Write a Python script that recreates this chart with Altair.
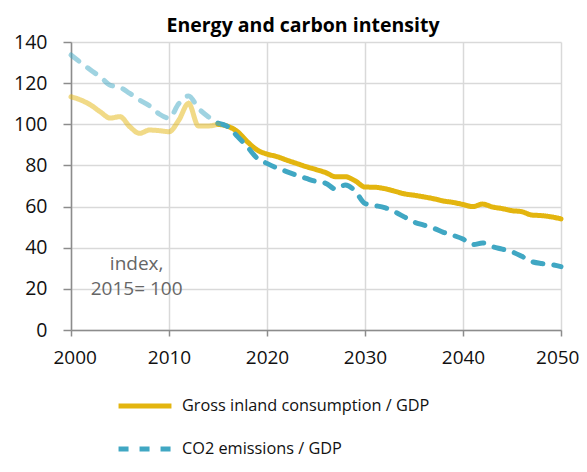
import altair as alt
import pandas as pd

years = list(range(2000, 2051))
series_names = ["Gross inland consumption / GDP", "CO2 emissions / GDP"]

gic_gdp = [113.4, 111.8, 109.4, 106.0, 103.0, 103.7, 98.8, 95.6, 97.2, 96.9,
           96.4, 102.0, 110.2, 99.2, 99.2, 100.0, 99.0, 96.4, 91.5, 87.5,
           85.5, 84.3, 82.6, 81.0, 79.4, 78.0, 76.5, 74.5, 74.5, 72.5,
           69.5, 69.4, 68.7, 67.5, 66.2, 65.5, 64.7, 63.8, 62.7, 62.0,
           61.0, 60.0, 61.2, 59.8, 59.0, 58.0, 57.5, 55.9, 55.6, 55.0, 54.0]
co2_gdp = [133.7, 130.0, 126.4, 123.0, 119.0, 118.0, 115.0, 111.8, 109.0, 105.0,
           103.0, 110.0, 113.8, 107.8, 103.7, 100.5, 98.8, 94.0, 89.0, 83.5,
           81.0, 78.8, 77.0, 75.3, 73.7, 72.2, 71.3, 68.5, 70.5, 67.5,
           61.5, 60.5, 59.5, 57.5, 55.0, 52.5, 51.0, 49.5, 47.5, 46.0,
           44.2, 41.5, 42.3, 40.5, 39.3, 38.0, 35.8, 33.3, 32.3, 31.8, 30.8]
split_year = 2015

annot_text = [["index,", "2015= 100"]]
annot_year = [2006.7]
annot_value = [29.2]

colors = ["#E3B50F", "#40A7C3"]
dashes = [[1, 0], [10, 11]]
FONT = "Open Sans"

rows = []
for name, vals in zip(series_names, [gic_gdp, co2_gdp]):
    for y, v in zip(years, vals):
        if y <= split_year:
            rows.append({"year": y, "value": v, "series": name, "period": "hist"})
        if y >= split_year:
            rows.append({"year": y, "value": v, "series": name, "period": "proj"})
df = pd.DataFrame(rows)

legend = alt.Legend(
    title=None, orient="none", legendX=45, legendY=335, direction="vertical",
    symbolType="stroke", symbolSize=2800, symbolStrokeWidth=5, symbolOpacity=1,
    labelFont=FONT, labelFontSize=16.3, labelColor="#111", labelOffset=8, labelLimit=500,
    rowPadding=4, padding=0,
)

x_axis = alt.Axis(values=list(range(2000, 2051, 10)), format="d", title=None,
                  labelFont=FONT, labelFontSize=19, labelColor="#111",
                  labelFlush=True, labelFlushOffset=18,
                  labelPadding=12, tickSize=6, tickColor="#8c8c8c", tickWidth=1.5,
                  domainColor="#8c8c8c", domainWidth=1.5,
                  gridColor="#d9d9d9", gridWidth=1.5)
y_axis = alt.Axis(values=list(range(0, 141, 20)), title=None,
                  labelFont=FONT, labelFontSize=19.5, labelColor="#111", labelFlush=False,
                  labelPadding=16, tickSize=8, tickColor="#8c8c8c", tickWidth=1.5,
                  domainColor="#8c8c8c", domainWidth=1.5,
                  gridColor="#d9d9d9", gridWidth=1.5)

base = alt.Chart(df).encode(
    x=alt.X("year:Q", scale=alt.Scale(domain=[2000, 2050], nice=False), axis=x_axis),
    y=alt.Y("value:Q", scale=alt.Scale(domain=[0, 140], nice=False), axis=y_axis),
    color=alt.Color("series:N", scale=alt.Scale(domain=series_names, range=colors), legend=legend),
    strokeDash=alt.StrokeDash("series:N", scale=alt.Scale(domain=series_names, range=dashes), legend=legend),
)

proj = base.mark_line(strokeWidth=5, strokeCap="round", interpolate="monotone").transform_filter(
    alt.datum.period == "proj")
hist = base.mark_line(strokeWidth=5, strokeCap="round", interpolate="monotone", opacity=0.5).transform_filter(
    alt.datum.period == "hist")

annot = alt.Chart(pd.DataFrame({"year": annot_year, "value": annot_value, "text": annot_text})).mark_text(
    align="center", baseline="alphabetic", font=FONT, fontSize=19, color="#666", lineHeight=25
).encode(x="year:Q", y="value:Q", text="text")

chart = alt.layer(proj, hist, annot).properties(
    width=490, height=288,
    title=alt.TitleParams("Energy and carbon intensity", font=FONT, fontSize=19.5, fontWeight="bold",
                          color="#000", anchor="middle", dx=-13, offset=-4),
    autosize=alt.AutoSizeParams(type="none"),
    padding={"left": 63, "top": 34, "right": 18, "bottom": 131},
).configure_view(stroke=None)

chart.save("out.html", embed_options={"renderer": "svg", "actions": False})
